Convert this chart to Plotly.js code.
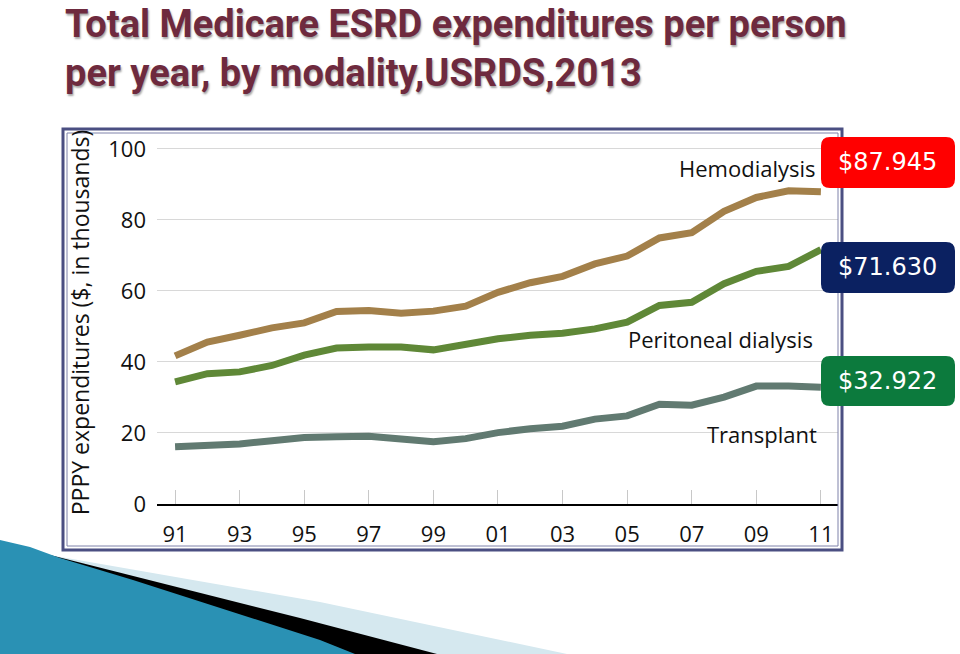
<!DOCTYPE html>
<html>
<head>
<meta charset="utf-8">
<script src="https://cdn.plot.ly/plotly-3.0.1.min.js"></script>
<style>html,body{margin:0;padding:0;background:#fff;}#chart{width:960px;height:654px;}</style>
</head>
<body>
<div id="chart"></div>
<script>
// ---- data ----
const years = [1991,1992,1993,1994,1995,1996,1997,1998,1999,2000,2001,2002,2003,2004,2005,2006,2007,2008,2009,2010,2011];
const hemodialysis = [41.7,45.6,47.5,49.6,51.0,54.2,54.5,53.7,54.3,55.7,59.6,62.3,64.1,67.6,69.8,74.9,76.4,82.4,86.3,88.2,87.9];
const peritoneal   = [34.4,36.7,37.2,39.0,41.9,43.9,44.2,44.2,43.4,44.9,46.5,47.5,48.1,49.3,51.2,55.9,56.8,62.0,65.5,66.9,71.6];
const transplant   = [16.1,16.3,16.9,17.8,18.7,18.9,19.1,18.3,17.5,18.4,20.1,21.2,21.9,23.9,24.8,28.1,27.8,30.1,33.2,33.2,32.9];
const tickYears = [1991,1993,1995,1997,1999,2001,2003,2005,2007,2009,2011];
const tickLabels = ['91','93','95','97','99','01','03','05','07','09','11'];
const yTicks = [0,20,40,60,80,100];
const seriesNames = ['Hemodialysis','Peritoneal dialysis','Transplant'];
const badgeTexts = ['$87.945','$71.630','$32.922'];
const titleLines = ['Total Medicare ESRD expenditures per person','per year, by modality,USRDS,2013'];

// ---- geometry helpers (pixel -> paper) ----
const W = 960, H = 654;
const M = {l:157, r:122, t:141, b:150};
const PW = W - M.l - M.r, PH = H - M.t - M.b;
const px = x => (x - M.l) / PW;
const py = y => (H - M.b - y) / PH;

function roundRect(x0,y0,x1,y1,r){
  const X0=px(x0),X1=px(x1),Y0=py(y0),Y1=py(y1);
  const rx=r/PW, ry=r/PH;
  return `M ${X0+rx},${Y0} L ${X1-rx},${Y0} Q ${X1},${Y0} ${X1},${Y0-ry} L ${X1},${Y1+ry} Q ${X1},${Y1} ${X1-rx},${Y1} L ${X0+rx},${Y1} Q ${X0},${Y1} ${X0},${Y1+ry} L ${X0},${Y0-ry} Q ${X0},${Y0} ${X0+rx},${Y0} Z`;
}
function poly(pts){
  return 'M ' + pts.map(p => px(p[0])+','+py(p[1])).join(' L ') + ' Z';
}

const lineColors = ['#A3804A','#5F8837','#617A71'];
const traces = [hemodialysis, peritoneal, transplant].map((vals,i) => ({
  x: years, y: vals, type:'scatter', mode:'lines', name: seriesNames[i],
  line:{color: lineColors[i], width:7, shape:'linear'},
  hoverinfo:'skip'
}));

const chartFont = '"Open Sans", "Noto Sans", sans-serif';

const shapes = [
  // gap in the 20 gridline behind "Transplant"
  {type:'line', xref:'paper', yref:'y', x0:px(689), x1:px(838), y0:20, y1:20, line:{color:'#ffffff', width:3}, layer:'between'},
  // frame
  {type:'rect', xref:'paper', yref:'paper', x0:px(63), x1:px(842), y0:py(129), y1:py(550), line:{color:'#4B4F82', width:3}},
  {type:'rect', xref:'paper', yref:'paper', x0:px(67), x1:px(838), y0:py(133), y1:py(546), line:{color:'#7E82AA', width:1}},
  // bottom-left decoration
  {type:'path', xref:'paper', yref:'paper', path: poly([[55,556],[320,602],[567,654],[0,654]]), fillcolor:'#D5E8EF', line:{width:0}},
  {type:'path', xref:'paper', yref:'paper', path: poly([[50,555],[300,618],[437,654],[0,654]]), fillcolor:'#000000', line:{width:0}},
  {type:'path', xref:'paper', yref:'paper', path: poly([[0,540],[30,547],[60,558],[133,580],[320,640],[355,654],[0,654]]), fillcolor:'#2A91B4', line:{width:0}},
  // badges
  {type:'path', xref:'paper', yref:'paper', path: roundRect(821,137,955,188,9), fillcolor:'#FF0000', line:{width:0}},
  {type:'path', xref:'paper', yref:'paper', path: roundRect(821,242,955,293,9), fillcolor:'#0B2161', line:{width:0}},
  {type:'path', xref:'paper', yref:'paper', path: roundRect(821,356,955,406,9), fillcolor:'#0C7A3D', line:{width:0}}
];

const badgeY = [162, 267, 381];
const labelPos = [[818,168],[815,339],[819,434]];
const annotations = [];
seriesNames.forEach((n,i) => annotations.push({
  xref:'paper', yref:'paper', x:px(labelPos[i][0]), y:py(labelPos[i][1]), xanchor:'right', yanchor:'middle',
  text:n, showarrow:false, font:{family:chartFont, size:22, color:'#111'}
}));
badgeTexts.forEach((t,i) => annotations.push({
  xref:'paper', yref:'paper', x:px(888), y:py(badgeY[i]), xanchor:'center', yanchor:'middle',
  text:t, showarrow:false, font:{family:'"DejaVu Sans", sans-serif', size:24, color:'#ffffff'}
}));
annotations.push({
  xref:'paper', yref:'paper', x:px(63), y:py(0), xanchor:'left', yanchor:'top', align:'left',
  text:titleLines.join('<br>'), showarrow:false,
  font:{family:'Roboto, sans-serif', size:38, weight:700, color:'#6E2A3E', shadow:'1px 2px 2px rgba(0,0,0,0.35)'}
});

const layout = {
  width:W, height:H, margin:M,
  paper_bgcolor:'#ffffff', plot_bgcolor:'#ffffff',
  showlegend:false,
  xaxis:{
    range:[1990.44, 2011.53], tickvals:tickYears, ticktext:tickLabels,
    ticks:'inside', ticklen:14, tickcolor:'#C8C8C8', tickwidth:1,
    showgrid:false, zeroline:false, showline:true, linecolor:'#000', linewidth:2,
    tickfont:{family:chartFont, size:22, color:'#111'}, ticklabelstandoff:10
  },
  yaxis:{
    range:[0,102.2], tickvals:yTicks, showgrid:true, gridcolor:'#D8D8D8', gridwidth:1,
    zeroline:false, showline:false, ticks:'',
    tickfont:{family:chartFont, size:22, color:'#111'}, ticklabelstandoff:10,
    title:{text:'PPPY expenditures ($, in thousands)', font:{family:chartFont, size:23, color:'#111'}, standoff:12}
  },
  shapes:shapes, annotations:annotations
};

Plotly.newPlot('chart', traces, layout, {staticPlot:true, displayModeBar:false});
</script>
</body>
</html>
